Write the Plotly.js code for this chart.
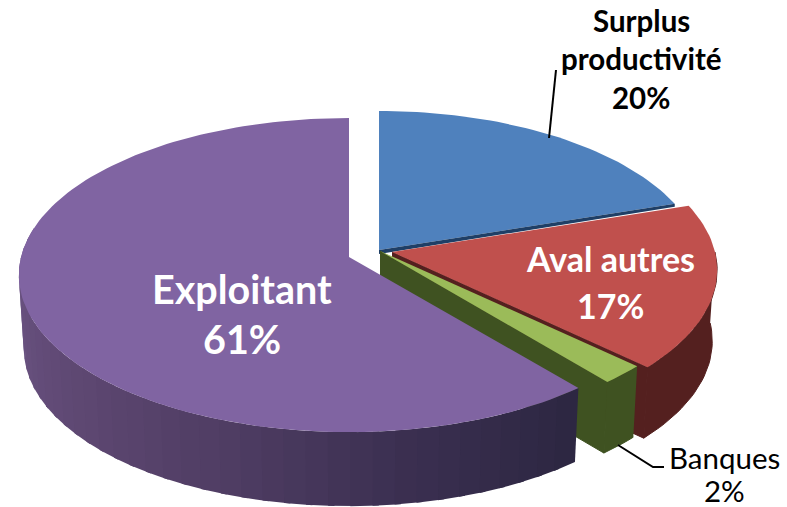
<!DOCTYPE html>
<html><head><meta charset="utf-8">
<script src="https://cdn.plot.ly/plotly-3.0.1.min.js"></script>
<style>html,body{margin:0;padding:0;background:#fff}#c{width:787px;height:507px}</style>
</head><body><div id="c"></div>
<script>
// Data
const categories = ["Surplus productivité", "Aval autres", "Banques", "Exploitant"];
const shares = [20, 17, 2, 61];
const topColors = ["#4f81bd", "#c0504d", "#9bbb59", "#8064a2"];
const wallColors = ["#1f3f66", "#54201f", "#3f5221", "#5f4a7d"];
// Slice apexes after explosion (pixels of the drawing space)
const apexX = [379, 392, 380, 349];
const apexY = [250, 252, 251, 257];
// Projection
const radiusX = [322, 323, 325, 328];
const depth = [70, 71, 71, 74];
const RY = 155, PERSP = 0.115, SHRINK = 0.985;

function rim(i, deg, low) {
  const a = deg * Math.PI / 180, X = Math.sin(a), Y = -Math.cos(a);
  const s = 1 / (1 - PERSP * Y);
  return [apexX[i] + radiusX[i] * X * s * (low ? SHRINK : 1), apexY[i] + RY * Y * s + (low ? depth[i] : 0)];
}
function bottomApex(i) { return [apexX[i], apexY[i] + depth[i]]; }

let acc = 0;
const ranges = shares.map(v => { const r = [acc * 3.6, (acc + v) * 3.6]; acc += v; return r; });

const traces = [];
function poly(pts, color, w) {
  traces.push({
    type: "scatter", mode: "lines", fill: "toself", fillcolor: color,
    x: pts.map(p => p[0]), y: pts.map(p => p[1]),
    line: { color: w ? color : "rgba(0,0,0,0)", width: w || 0 },
    hoverinfo: "skip", showlegend: false
  });
}
function arc(i, d0, d1, low) {
  const n = Math.max(2, Math.ceil(Math.abs(d1 - d0) / 1.5)), out = [];
  for (let k = 0; k <= n; k++) out.push(rim(i, d0 + (d1 - d0) * k / n, low));
  return out;
}
function topFace(i) {
  poly([[apexX[i], apexY[i]], ...arc(i, ranges[i][0], ranges[i][1], false)], topColors[i]);
}
function wall(i, d0, d1, col, w) {
  poly([...arc(i, d0, d1, false), ...arc(i, d1, d0, true)], col, w);
}
function cut(i, deg, col) {
  poly([[apexX[i], apexY[i]], rim(i, deg, false), rim(i, deg, true), bottomApex(i)], col, 1);
}
function mix(a, b, t) {
  const p = h => [1, 3, 5].map(k => parseInt(h.substr(k, 2), 16));
  const A = p(a), B = p(b);
  return "rgb(" + A.map((v, k) => Math.round(v + (B[k] - v) * t)).join(",") + ")";
}

// Blue
topFace(0);
const blueEnd = rim(0, ranges[0][1], false);
poly([[apexX[0], apexY[0]], blueEnd, [blueEnd[0], blueEnd[1] + 3], [apexX[0], apexY[0] + 4]], wallColors[0]);
// Red
cut(1, ranges[1][1], wallColors[1]);
wall(1, 90, ranges[1][1], wallColors[1], 1);
topFace(1);
// Green
cut(2, ranges[2][1], wallColors[2]);
wall(2, ranges[2][0], ranges[2][1], wallColors[2], 1);
topFace(2);
// Purple: stepped gradient along the visible rim, drawn from the left so bands overlap
const stops = ["#2d2742", "#3a2f50", "#4e3c62", "#5c4670", "#664f7c", "#6e5689"];
const from = ranges[3][0], to = 280, steps = 40;
for (let k = steps - 1; k >= 0; k--) {
  const d0 = from + (to - from) * k / steps, d1 = from + (to - from) * (k + 1) / steps;
  const t = k / (steps - 1) * (stops.length - 1), j = Math.min(stops.length - 2, Math.floor(t));
  wall(3, d0, d1 + 1, mix(stops[j], stops[j + 1], t - j));
}
topFace(3);

// Labels, one annotation per line, percentages taken from the shares
const labelLines = [["Surplus", "productivité"], ["Aval autres"], ["Banques"], ["Exploitant"]];
const labelX = [641, 610, 724, 242];
const labelY = [[20, 58, 97], [258, 305], [457, 490], [288, 338]];
const labelSize = [29.5, 34, 29.5, 39.5];
const labelColor = ["#000000", "#ffffff", "#000000", "#ffffff"];
const labelWeight = [700, 700, 400, 700];
const annotations = [];
labelLines.forEach((lines, i) => {
  [...lines, shares[i] + "%"].forEach((txt, k) => annotations.push({
    x: labelX[i], y: labelY[i][k], xref: "x", yref: "y", text: txt, showarrow: false,
    xanchor: "center", yanchor: "middle",
    font: { family: "Lato, Carlito, sans-serif", size: labelSize[i], color: labelColor[i], weight: labelWeight[i] }
  }));
});

const leader1X = [556, 549], leader1Y = [70, 138];
const leader2X = [618, 653, 664], leader2Y = [445, 467, 467];
[[leader1X, leader1Y], [leader2X, leader2Y]].forEach(([x, y]) => traces.push({
  type: "scatter", mode: "lines", x, y, line: { color: "#000", width: 2 }, hoverinfo: "skip", showlegend: false
}));

const ax = { visible: false, fixedrange: true, zeroline: false, showgrid: false };
Plotly.newPlot("c", traces, {
  width: 787, height: 507, margin: { l: 0, r: 0, t: 0, b: 0 },
  paper_bgcolor: "#fff", plot_bgcolor: "#fff", showlegend: false,
  xaxis: { ...ax, range: [0, 787] }, yaxis: { ...ax, range: [507, 0] },
  annotations
}, { displayModeBar: false, staticPlot: true });
</script></body></html>
